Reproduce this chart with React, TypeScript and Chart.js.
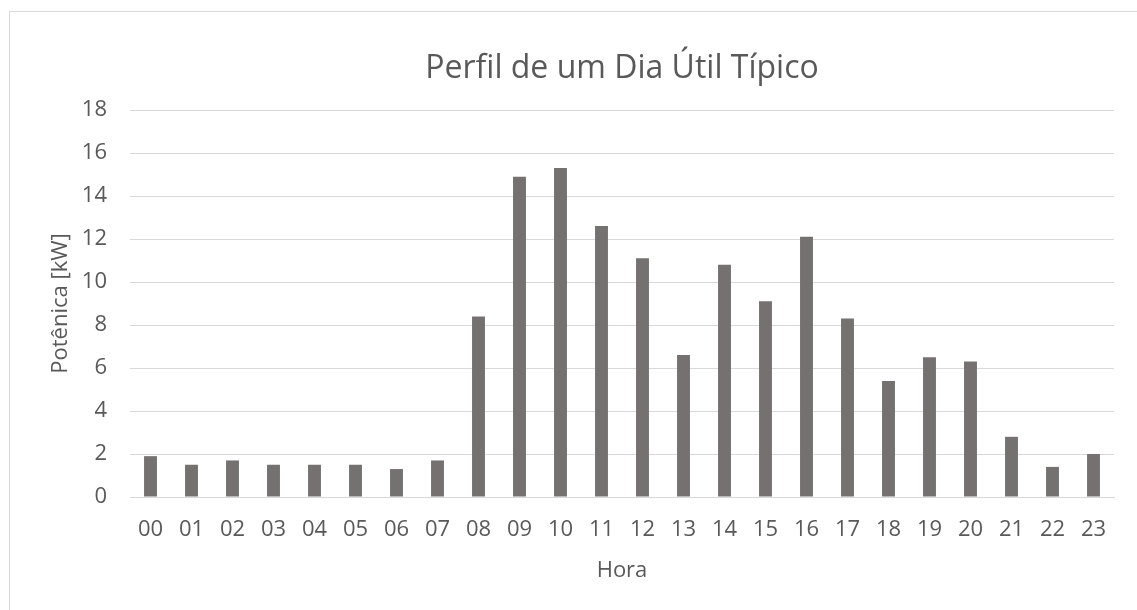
import React, { useEffect, useRef } from "react";
import { Chart, registerables } from "chart.js";

Chart.register(...registerables);

const hours = ["00","01","02","03","04","05","06","07","08","09","10","11","12","13","14","15","16","17","18","19","20","21","22","23"];
const power = [1.9, 1.5, 1.7, 1.5, 1.5, 1.5, 1.3, 1.7, 8.4, 14.9, 15.3, 12.6, 11.1, 6.6, 10.8, 9.1, 12.1, 8.3, 5.4, 6.5, 6.3, 2.8, 1.4, 2.0];
const chartTitle = "Perfil de um Dia Útil Típico";
const xTitle = "Hora";
const yTitle = "Potênica [kW]";

const FONT = "'Open Sans', sans-serif";
const TEXT = "#595959";
const GRID = "#d9d9d9";

export default function App() {
  const ref = useRef<HTMLCanvasElement | null>(null);

  useEffect(() => {
    if (!ref.current) return;
    const chart = new Chart(ref.current, {
      type: "bar",
      data: {
        labels: hours,
        datasets: [
          {
            label: "Potência",
            data: power,
            backgroundColor: "#767171",
            borderWidth: 0,
            categoryPercentage: 1,
            barPercentage: 0.315,
          },
        ],
      },
      options: {
        responsive: false,
        animation: false,
        layout: { padding: { left: 0, right: 23, top: 0, bottom: 0 } },
        plugins: {
          legend: { display: false },
          tooltip: { enabled: false },
          title: {
            display: true,
            text: chartTitle,
            fullSize: false,
            color: TEXT,
            font: { family: FONT, size: 32, weight: "normal" },
            padding: { top: 50, bottom: 21.6 },
          },
        },
        scales: {
          x: {
            grid: { display: false, drawTicks: false },
            border: { display: true, color: GRID, width: 1 },
            ticks: {
              color: TEXT,
              font: { family: FONT, size: 22 },
              padding: 20,
              maxRotation: 0,
              autoSkip: false,
            },
            title: {
              display: true,
              text: xTitle,
              color: TEXT,
              font: { family: FONT, size: 22 },
              padding: { top: 0, bottom: 26 },
            },
            afterFit: (scale: any) => {
              scale.height = 113;
            },
          },
          y: {
            min: 0,
            max: 18,
            ticks: {
              stepSize: 2,
              color: TEXT,
              font: { family: FONT, size: 22 },
              padding: 23,
            },
            grid: { color: GRID, lineWidth: 1, drawTicks: false },
            border: { display: false },
            title: {
              display: true,
              text: yTitle,
              color: TEXT,
              font: { family: FONT, size: 22 },
              padding: { top: 48, bottom: 0 },
            },
            afterFit: (scale: any) => {
              scale.width = 130;
            },
          },
        },
      },
    });
    return () => chart.destroy();
  }, []);

  return (
    <div style={{ position: "absolute", left: 0, top: 0, width: 1137, height: 610, overflow: "hidden", background: "#fff" }}>
      <div
        style={{
          position: "absolute",
          left: 9,
          top: 11,
          width: 1200,
          height: 700,
          borderLeft: "1px solid #d9d9d9",
          borderTop: "1px solid #d9d9d9",
        }}
      />
      <canvas ref={ref} width={1137} height={610} style={{ position: "absolute", left: 0, top: 0 }} />
    </div>
  );
}
